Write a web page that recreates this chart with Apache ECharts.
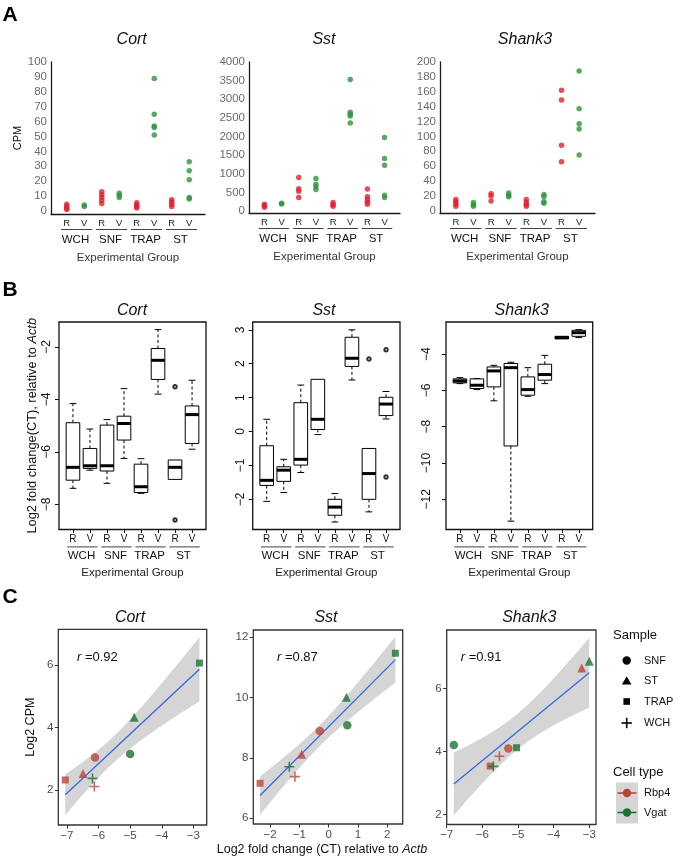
<!DOCTYPE html>
<html><head><meta charset="utf-8">
<script src="https://cdn.jsdelivr.net/npm/echarts@6/dist/echarts.min.js"></script>
<style>html,body{margin:0;padding:0;background:#fff}#c{width:681px;height:857px}</style>
</head><body><div id="c"></div>
<script>
// ---------------- DATA ----------------
const groupNames = ['WCH', 'SNF', 'TRAP', 'ST'];
const cellCodes = ['R', 'V'];
const geneNames = ['Cort', 'Sst', 'Shank3'];

// Panel A: CPM per group (WCH, SNF, TRAP, ST); R = Rbp4 (red), V = Vgat (green)
const cortCpmR = [[1, 2, 3, 4.5], [13, 11, 9, 7, 5], [5.5, 4, 3, 2], [7.5, 6, 4.5, 3]];
const cortCpmV = [[3, 4], [12, 10.5, 9], [89, 65, 57, 56, 51], [33, 27, 21, 9, 8]];
const sstCpmR = [[100, 150, 180], [900, 600, 530, 360], [230, 170, 130], [590, 380, 300, 240, 180]];
const sstCpmV = [[190, 210], [870, 720, 650, 580], [3530, 2650, 2600, 2550, 2360], [1970, 1410, 1230, 420, 360]];
const shank3CpmR = [[15, 12, 9, 6], [23, 20, 13], [15, 11, 8, 6], [162, 149, 88, 66]];
const shank3CpmV = [[11, 8, 6], [24, 21, 19], [22, 19, 12, 10], [188, 137, 117, 110, 75]];
const cortCpmTicks = [0, 10, 20, 30, 40, 50, 60, 70, 80, 90, 100];
const sstCpmTicks = [0, 500, 1000, 1500, 2000, 2500, 3000, 3500, 4000];
const shank3CpmTicks = [0, 20, 40, 60, 80, 100, 120, 140, 160, 180, 200];

// Panel B: boxplot stats [min, q1, median, q3, max], order R-WCH, V-WCH, R-SNF, V-SNF, R-TRAP, V-TRAP, R-ST, V-ST
const cortBox = [
  [-7.39, -7.08, -6.59, -4.89, -4.16], [-6.70, -6.63, -6.53, -5.87, -5.13],
  [-7.20, -6.73, -6.53, -4.98, -4.77], [-6.25, -5.55, -4.92, -4.64, -3.59],
  [-7.58, -7.55, -7.33, -6.47, -6.26], [-3.80, -3.24, -2.51, -2.06, -1.34],
  [-7.05, -7.05, -6.59, -6.31, -6.31], [-5.90, -5.68, -4.58, -4.25, -3.27]];
const cortOutliers = [[7, -3.52], [7, -8.60]];
const sstBox = [
  [-2.06, -1.59, -1.44, -0.42, 0.36], [-1.80, -1.47, -1.14, -1.04, -0.82],
  [-1.21, -0.99, -0.82, 0.85, 1.37], [-0.09, 0.06, 0.36, 1.54, 1.54],
  [-2.67, -2.47, -2.23, -2.00, -1.83], [1.52, 1.92, 2.16, 2.78, 3.00],
  [-2.37, -2.00, -1.24, -0.50, -0.50], [0.37, 0.47, 0.81, 1.01, 1.18]];
const sstOutliers = [[7, 2.14], [8, 2.41], [8, -1.34]];
const shank3Box = [
  [-5.62, -5.58, -5.47, -5.36, -5.29], [-5.95, -5.89, -5.71, -5.36, -5.34],
  [-6.57, -5.80, -4.92, -4.70, -4.61], [-13.21, -9.06, -4.74, -4.51, -4.44],
  [-6.32, -6.26, -5.95, -5.25, -4.74], [-5.62, -5.43, -5.12, -4.55, -4.06],
  [-3.15, -3.15, -3.08, -3.01, -3.01], [-3.08, -3.01, -2.81, -2.68, -2.64]];
const shank3Outliers = [];
const cortFcTicks = [-8, -6, -4, -2];
const sstFcTicks = [-2, -1, 0, 1, 2, 3];
const shank3FcTicks = [-12, -10, -8, -6, -4];

// Panel C: per sample (SNF, ST, TRAP, WCH)
const sampleNames = ['SNF', 'ST', 'TRAP', 'WCH'];
const cellTypeNames = ['Rbp4', 'Vgat'];
const cortCtRbp4 = [-6.11, -6.49, -7.05, -6.13];
const cortLogCpmRbp4 = [3.04, 2.53, 2.32, 2.11];
const cortCtVgat = [-5.00, -4.87, -2.81, -6.19];
const cortLogCpmVgat = [3.15, 4.33, 6.06, 2.37];
const sstCtRbp4 = [-0.30, -0.92, -2.34, -1.15];
const sstLogCpmRbp4 = [8.89, 8.12, 7.16, 7.38];
const sstCtVgat = [0.64, 0.61, 2.28, -1.34];
const sstLogCpmVgat = [9.08, 10.01, 11.47, 7.71];
const shank3CtRbp4 = [-5.27, -3.21, -5.78, -5.52];
const shank3LogCpmRbp4 = [4.10, 6.65, 3.54, 3.85];
const shank3CtVgat = [-6.80, -3.00, -5.04, -5.69];
const shank3LogCpmVgat = [4.21, 6.86, 4.12, 3.53];
const corrLabels = ['0.92', '0.87', '0.91'];
const cortCtTicksC = [-7, -6, -5, -4, -3];
const cortLogCpmTicks = [2, 4, 6];
const sstCtTicksC = [-2, -1, 0, 1, 2];
const sstLogCpmTicks = [6, 8, 10, 12];
const shank3CtTicksC = [-7, -6, -5, -4, -3];
const shank3LogCpmTicks = [2, 4, 6];

// ---------------- STYLE / LAYOUT ----------------
const FONT = '"Liberation Sans", Arial, Helvetica, sans-serif';
const RED_A = '#e31e2d', GREEN_A = '#2f9440';
const RBP4 = '#b9453a', VGAT = '#1a7334';
const PLUS = 'path://M4.2,0H5.8V4.2H10V5.8H5.8V10H4.2V5.8H0V4.2H4.2Z';
const SYM = {SNF: 'circle', ST: 'triangle', TRAP: 'rect', WCH: PLUS};
const SYM_SIZE = {SNF: 8.5, ST: 9, TRAP: 7, WCH: 10};
const T975 = {6: 2.446912};
const minus = v => String(v).replace('-', '\u2212');
const plain = v => String(v);
const pos8 = [1, 2, 3, 4, 5, 6, 7, 8];
const groupCenters = [1.5, 3.5, 5.5, 7.5];

const grids = [], xAxes = [], yAxes = [], series = [], graphics = [];

function addGrid(f, show, color) {
  grids.push({left: f.l, top: f.t, width: f.r - f.l, height: f.b - f.t, show: show,
    borderColor: color || '#111', borderWidth: 1.3, backgroundColor: 'transparent'});
  return grids.length - 1;
}
function underline(xi, yi, ymin, off) {
  return {type: 'custom', xAxisIndex: xi, yAxisIndex: yi, clip: false, silent: true, z: 5,
    data: groupCenters.map(c => [c, ymin]),
    renderItem: (p, api) => {
      const c = api.value(0);
      const a = api.coord([c - 0.5 - 0.33, ymin]);
      const b = api.coord([c + 0.5 + 0.45, ymin]);
      const y = a[1] + off;
      return {type: 'line', shape: {x1: a[0], y1: y, x2: b[0], y2: y}, style: {stroke: '#444', lineWidth: 1}};
    }};
}

// ---------- Panel A ----------
const A = [
  {l: 51, r: 205, t: 62, b: 214, ymin: -2, ymax: 100, ticks: cortCpmTicks, R: cortCpmR, V: cortCpmV},
  {l: 249, r: 400, t: 62, b: 213, ymin: -54, ymax: 4000, ticks: sstCpmTicks, R: sstCpmR, V: sstCpmV},
  {l: 440, r: 595, t: 62, b: 213, ymin: -3, ymax: 200, ticks: shank3CpmTicks, R: shank3CpmR, V: shank3CpmV}];
A.forEach((f, i) => {
  const g = addGrid(f, false);
  const xi = xAxes.length;
  xAxes.push({gridIndex: g, type: 'value', min: 0.1, max: 8.9, position: 'bottom',
    axisLine: {show: true, onZero: false, lineStyle: {color: '#1a1a1a', width: 1.3}},
    axisTick: {show: false}, splitLine: {show: false},
    axisLabel: {customValues: pos8, formatter: v => cellCodes[(Math.round(v) - 1) % 2], fontSize: 9.5, color: '#222', margin: 4.25, fontFamily: FONT},
    name: 'Experimental Group', nameLocation: 'middle', nameGap: 37.75,
    nameTextStyle: {fontSize: 11.5, color: '#333', fontFamily: FONT}});
  xAxes.push({gridIndex: g, type: 'value', min: 0.1, max: 8.9, position: 'bottom',
    axisLine: {show: false}, axisTick: {show: false}, splitLine: {show: false},
    axisLabel: {customValues: groupCenters, formatter: v => groupNames[Math.round((v - 1.5) / 2)], fontSize: 11.5, color: '#111', margin: 19.5, fontFamily: FONT}});
  const yi = yAxes.length;
  yAxes.push({gridIndex: g, type: 'value', min: f.ymin, max: f.ymax,
    axisLine: {show: true, onZero: false, lineStyle: {color: '#1a1a1a', width: 1.3}},
    axisTick: {show: false}, splitLine: {show: false},
    axisLabel: {customValues: f.ticks, formatter: plain, fontSize: 11.5, color: '#6b6b6b', margin: 4, fontFamily: FONT},
    name: i === 0 ? 'CPM' : '', nameLocation: 'middle', nameGap: 24.5,
    nameTextStyle: {fontSize: 11, color: '#111', fontFamily: FONT}});
  series.push({type: 'scatter', xAxisIndex: xi, yAxisIndex: yi, silent: true, symbolSize: 5.5,
    itemStyle: {color: RED_A}, data: f.R.flatMap((vals, k) => vals.map(v => [2 * k + 1, v]))});
  series.push({type: 'scatter', xAxisIndex: xi, yAxisIndex: yi, silent: true, symbolSize: 5.5,
    itemStyle: {color: GREEN_A}, data: f.V.flatMap((vals, k) => vals.map(v => [2 * k + 2, v]))});
  series.push(underline(xi, yi, f.ymin, 15.5));
});

// ---------- Panel B ----------
function boxRender(p, api) {
  const x = api.value(0);
  const lo = api.value(1), q1 = api.value(2), md = api.value(3), q3 = api.value(4), hi = api.value(5);
  const hw = api.size([0.4, 0])[0];
  const sw = hw * 0.5;
  const pLo = api.coord([x, lo]), pQ1 = api.coord([x, q1]), pMd = api.coord([x, md]);
  const pQ3 = api.coord([x, q3]), pHi = api.coord([x, hi]);
  const cx = pMd[0];
  const ch = [];
  const dash = {stroke: '#000', lineWidth: 1, lineDash: [3, 2.5]};
  const solid = {stroke: '#000', lineWidth: 1};
  if (hi > q3) {
    ch.push({type: 'line', shape: {x1: cx, y1: pQ3[1], x2: cx, y2: pHi[1]}, style: dash});
    ch.push({type: 'line', shape: {x1: cx - sw, y1: pHi[1], x2: cx + sw, y2: pHi[1]}, style: solid});
  }
  if (lo < q1) {
    ch.push({type: 'line', shape: {x1: cx, y1: pQ1[1], x2: cx, y2: pLo[1]}, style: dash});
    ch.push({type: 'line', shape: {x1: cx - sw, y1: pLo[1], x2: cx + sw, y2: pLo[1]}, style: solid});
  }
  ch.push({type: 'rect', shape: {x: cx - hw, y: pQ3[1], width: 2 * hw, height: Math.max(pQ1[1] - pQ3[1], 1)},
    style: {fill: '#fff', stroke: '#000', lineWidth: 1}});
  ch.push({type: 'line', shape: {x1: cx - hw, y1: pMd[1], x2: cx + hw, y2: pMd[1]}, style: {stroke: '#000', lineWidth: 3}});
  return {type: 'group', children: ch};
}
const B = [
  {l: 59, r: 206, ymin: -8.96, ymax: -1.05, ticks: cortFcTicks, box: cortBox, out: cortOutliers, lm: 6.3},
  {l: 252.7, r: 400, ymin: -2.89, ymax: 3.23, ticks: sstFcTicks, box: sstBox, out: sstOutliers, lm: 6},
  {l: 446, r: 592.7, ymin: -13.67, ymax: -2.22, ticks: shank3FcTicks, box: shank3Box, out: shank3Outliers, lm: 13}];
B.forEach((f, i) => {
  f.t = 322; f.b = 529.5;
  const g = addGrid(f, true, '#111');
  const xi = xAxes.length;
  xAxes.push({gridIndex: g, type: 'value', min: 0.18, max: 8.82, position: 'bottom',
    axisLine: {show: false, onZero: false},
    axisTick: {show: true, customValues: pos8, length: 3.5, lineStyle: {color: '#111', width: 1}},
    splitLine: {show: false},
    axisLabel: {customValues: pos8, formatter: v => cellCodes[(Math.round(v) - 1) % 2], fontSize: 10, color: '#111', margin: 5, fontFamily: FONT},
    name: 'Experimental Group', nameLocation: 'middle', nameGap: 37.5,
    nameTextStyle: {fontSize: 11.5, color: '#222', fontFamily: FONT}});
  xAxes.push({gridIndex: g, type: 'value', min: 0.18, max: 8.82, position: 'bottom',
    axisLine: {show: false}, axisTick: {show: false}, splitLine: {show: false},
    axisLabel: {customValues: groupCenters, formatter: v => groupNames[Math.round((v - 1.5) / 2)], fontSize: 11.5, color: '#111', margin: 20.5, fontFamily: FONT}});
  const yi = yAxes.length;
  yAxes.push({gridIndex: g, type: 'value', min: f.ymin, max: f.ymax,
    axisLine: {show: false, onZero: false},
    axisTick: {show: true, customValues: f.ticks, length: 4, lineStyle: {color: '#111', width: 1}},
    splitLine: {show: false},
    axisLabel: {customValues: f.ticks, rotate: 90, formatter: minus, fontSize: 12, color: '#111', margin: f.lm, fontFamily: FONT},
    name: i === 0 ? 'Log2 fold change(CT), relative to {i|Actb}' : '', nameLocation: 'middle', nameGap: 20,
    nameTextStyle: {fontSize: 12.8, color: '#111', fontFamily: FONT,
      rich: {i: {fontStyle: 'italic', fontSize: 12.8, color: '#111', fontFamily: FONT}}}});
  series.push({type: 'custom', xAxisIndex: xi, yAxisIndex: yi, silent: true, renderItem: boxRender,
    encode: {x: 0, y: [1, 2, 3, 4, 5]},
    data: f.box.map((s, k) => [k + 1].concat(s))});
  series.push({type: 'scatter', xAxisIndex: xi, yAxisIndex: yi, silent: true, symbol: 'emptyCircle', symbolSize: 3.5,
    itemStyle: {color: '#000', borderColor: '#000', borderWidth: 1}, data: f.out});
  series.push(underline(xi, yi, f.ymin, 17.4));
});

// ---------- Panel C ----------
function linFit(xs, ys) {
  const n = xs.length;
  const mx = xs.reduce((s, v) => s + v, 0) / n, my = ys.reduce((s, v) => s + v, 0) / n;
  let sxx = 0, sxy = 0;
  xs.forEach((x, k) => { sxx += (x - mx) ** 2; sxy += (x - mx) * (ys[k] - my); });
  const b = sxy / sxx, a = my - b * mx;
  let sse = 0;
  xs.forEach((x, k) => { const r = ys[k] - (a + b * x); sse += r * r; });
  const s = Math.sqrt(sse / (n - 2)), tq = T975[n - 2];
  const x0 = Math.min(...xs), x1 = Math.max(...xs);
  const band = [];
  for (let k = 0; k <= 80; k++) {
    const x = x0 + (x1 - x0) * k / 80, yh = a + b * x;
    const se = s * Math.sqrt(1 / n + (x - mx) ** 2 / sxx);
    band.push([x, yh - tq * se, yh + tq * se]);
  }
  return {a, b, x0, x1, band};
}
const C = [
  {l: 58.3, r: 206.7, t: 629.3, b: 825, xmin: -7.27, xmax: -2.58, ymin: 0.88, ymax: 7.14,
   xt: cortCtTicksC, yt: cortLogCpmTicks, ctR: cortCtRbp4, cpR: cortLogCpmRbp4, ctV: cortCtVgat, cpV: cortLogCpmVgat},
  {l: 253.3, r: 402.7, t: 630, b: 825, xmin: -2.57, xmax: 2.53, ymin: 5.81, ymax: 12.24,
   xt: sstCtTicksC, yt: sstLogCpmTicks, ctR: sstCtRbp4, cpR: sstLogCpmRbp4, ctV: sstCtVgat, cpV: sstLogCpmVgat},
  {l: 446.7, r: 596, t: 630, b: 824.5, xmin: -7.0, xmax: -2.81, ymin: 1.69, ymax: 7.85,
   xt: shank3CtTicksC, yt: shank3LogCpmTicks, ctR: shank3CtRbp4, cpR: shank3LogCpmRbp4, ctV: shank3CtVgat, cpV: shank3LogCpmVgat}];
C.forEach((f, i) => {
  const g = addGrid(f, true, '#333');
  const xi = xAxes.length;
  xAxes.push({gridIndex: g, type: 'value', min: f.xmin, max: f.xmax, position: 'bottom',
    axisLine: {show: false, onZero: false},
    axisTick: {show: true, customValues: f.xt, length: 3.5, lineStyle: {color: '#333', width: 1}},
    splitLine: {show: false},
    axisLabel: {customValues: f.xt, formatter: minus, fontSize: 11.5, color: '#4d4d4d', margin: 4.5, fontFamily: FONT},
    name: i === 1 ? 'Log2 fold change (CT) relative to {i|Actb}' : '', nameLocation: 'middle', nameGap: 19,
    nameTextStyle: {fontSize: 12.5, color: '#111', fontFamily: FONT, padding: [0, 12, 0, 0],
      rich: {i: {fontStyle: 'italic', fontSize: 12.5, color: '#111', fontFamily: FONT}}}});
  const yi = yAxes.length;
  yAxes.push({gridIndex: g, type: 'value', min: f.ymin, max: f.ymax,
    axisLine: {show: false, onZero: false},
    axisTick: {show: true, customValues: f.yt, length: 3.5, lineStyle: {color: '#333', width: 1}},
    splitLine: {show: false},
    axisLabel: {customValues: f.yt, fontSize: 11.5, color: '#4d4d4d', margin: 5, fontFamily: FONT},
    name: i === 0 ? 'Log2 CPM' : '', nameLocation: 'middle', nameGap: 21,
    nameTextStyle: {fontSize: 12.5, color: '#111', fontFamily: FONT}});
  const xs = f.ctR.concat(f.ctV), ys = f.cpR.concat(f.cpV);
  const fit = linFit(xs, ys);
  series.push({type: 'custom', xAxisIndex: xi, yAxisIndex: yi, silent: true, z: 1,
    data: [[fit.x0, fit.a + fit.b * fit.x0]],
    renderItem: (p, api) => {
      const up = fit.band.map(d => api.coord([d[0], d[2]]));
      const lo = fit.band.slice().reverse().map(d => api.coord([d[0], d[1]]));
      return {type: 'polygon', shape: {points: up.concat(lo)}, style: {fill: '#d5d5d5'}};
    }});
  series.push({type: 'line', xAxisIndex: xi, yAxisIndex: yi, silent: true, z: 2, showSymbol: false,
    lineStyle: {color: '#3567e0', width: 1.3},
    data: [[fit.x0, fit.a + fit.b * fit.x0], [fit.x1, fit.a + fit.b * fit.x1]]});
  [[f.ctR, f.cpR, RBP4], [f.ctV, f.cpV, VGAT]].forEach(([ct, cp, col]) => {
    series.push({type: 'scatter', xAxisIndex: xi, yAxisIndex: yi, silent: true, z: 3,
      itemStyle: {color: col},
      data: sampleNames.map((s, k) => ({value: [ct[k], cp[k]], symbol: SYM[s], symbolSize: SYM_SIZE[s]}))});
  });
  const rx = [77, 277, 460.7][i];
  graphics.push({type: 'text', x: rx, y: 657, style: {text: '{i|r} =' + corrLabels[i], fontSize: 13, fontFamily: FONT, fill: '#111',
    verticalAlign: 'middle', align: 'left', rich: {i: {fontStyle: 'italic', fontSize: 13, fontFamily: FONT, fill: '#111'}}}});
});

// ---------- Titles, panel letters, legend ----------
function text(x, y, s, size, opts) {
  return Object.assign({type: 'text', x: x, y: y, style: Object.assign({text: s, fontSize: size, fontFamily: FONT, fill: '#111',
    align: 'center', verticalAlign: 'middle'}, opts || {})});
}
const titleY = [40, 310.7, 617.3];
const titleX = [[131.7, 324, 525], [132, 324, 521.7], [130, 326, 529.3]];
titleY.forEach((y, r) => geneNames.forEach((gname, i) => graphics.push(text(titleX[r][i], y, gname, 16, {fontStyle: 'italic'}))));
graphics.push(text(10, 15, 'A', 21, {fontWeight: 'bold', fill: '#000'}));
graphics.push(text(10, 290, 'B', 21, {fontWeight: 'bold', fill: '#000'}));
graphics.push(text(10, 597, 'C', 21, {fontWeight: 'bold', fill: '#000'}));

// legend: Sample
graphics.push(text(613, 635.5, 'Sample', 13, {align: 'left'}));
const legY = [660.5, 681, 701.5, 723];
const lx = 626.7;
graphics.push({type: 'circle', shape: {cx: lx, cy: legY[0], r: 4.2}, style: {fill: '#000'}});
graphics.push({type: 'polygon', shape: {points: [[lx, legY[1] - 4.8], [lx + 4.8, legY[1] + 3.6], [lx - 4.8, legY[1] + 3.6]]}, style: {fill: '#000'}});
graphics.push({type: 'rect', shape: {x: lx - 3.3, y: legY[2] - 3.3, width: 6.6, height: 6.6}, style: {fill: '#000'}});
graphics.push({type: 'rect', shape: {x: lx - 5.2, y: legY[3] - 0.8, width: 10.4, height: 1.6}, style: {fill: '#000'}});
graphics.push({type: 'rect', shape: {x: lx - 0.8, y: legY[3] - 5.2, width: 1.6, height: 10.4}, style: {fill: '#000'}});
sampleNames.forEach((s, k) => graphics.push(text(644, legY[k], s, 11, {align: 'left'})));
// legend: Cell type
graphics.push(text(613, 772, 'Cell type', 13, {align: 'left'}));
graphics.push({type: 'rect', shape: {x: 616, y: 782.5, width: 22, height: 41}, style: {fill: '#d5d5d5'}});
[[793, RBP4], [812.5, VGAT]].forEach(([y, col], k) => {
  graphics.push({type: 'line', shape: {x1: 617.5, y1: y, x2: 636.5, y2: y}, style: {stroke: col, lineWidth: 1.6}});
  graphics.push({type: 'circle', shape: {cx: 627, cy: y, r: 4.2}, style: {fill: col}});
  graphics.push(text(644, y, cellTypeNames[k], 11, {align: 'left'}));
});

const chart = echarts.init(document.getElementById('c'), null, {renderer: 'canvas'});
chart.setOption({
  animation: false,
  backgroundColor: '#fff',
  textStyle: {fontFamily: FONT},
  grid: grids, xAxis: xAxes, yAxis: yAxes, series: series, graphic: graphics
});
</script></body></html>
